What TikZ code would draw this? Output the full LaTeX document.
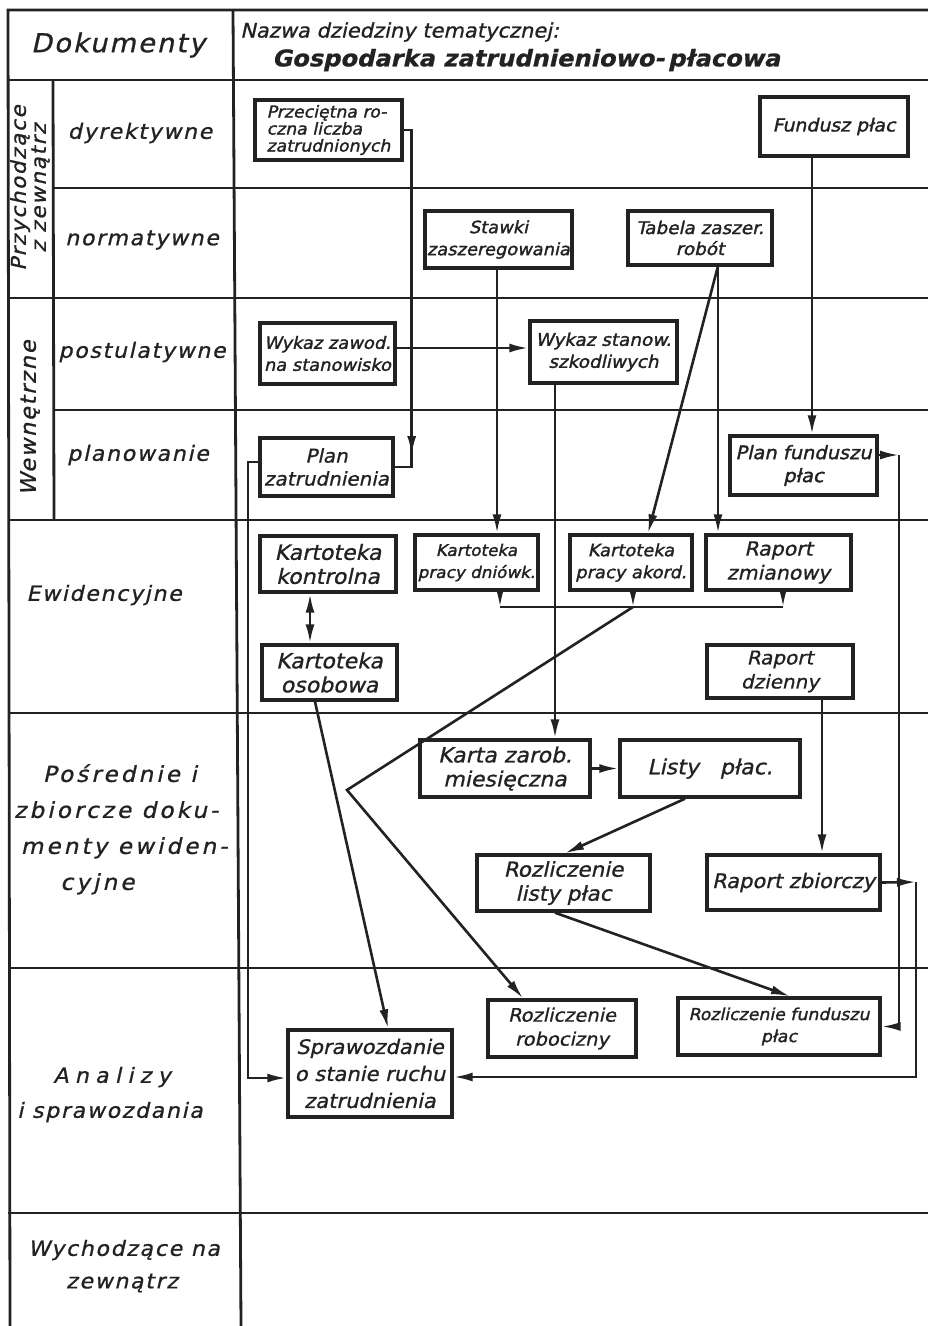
\documentclass[tikz,border=0pt]{standalone}
\usepackage{fontspec}
\setmainfont{DejaVu Sans}
\newfontfamily\hand[FakeSlant=0.22,FakeStretch=1.05,FakeBold=0.9]{DejaVu Sans}
\newfontfamily\handb[FakeSlant=0.22,FakeStretch=1.05,FakeBold=1.6]{DejaVu Sans}
\newfontfamily\handsp[FakeSlant=0.22,FakeStretch=1.05,FakeBold=0.9,LetterSpace=8]{DejaVu Sans}
\usetikzlibrary{arrows.meta,decorations.markings}
\definecolor{ink}{HTML}{222222}

\newcommand\handsz[2]{\hand\fontsize{#1}{#2}\selectfont}
\newcommand\handbsz[2]{\handb\fontsize{#1}{#2}\selectfont}

\tikzset{
  rule/.style={draw=ink, line width=2.8pt},
  box/.style={draw=ink, line width=3.4pt, fill=white, align=center, inner sep=0pt,
    text=ink, font=\handbsz{18}{22}},
  fs/.style 2 args={font=\handsz{#1}{#2}},
  fsb/.style 2 args={font=\handbsz{#1}{#2}},
  conn/.style={draw=ink, line width=2.6pt},
  tip/.style={-{Latex[length=19pt,width=9pt]}},
  arr/.style={conn, tip},
  midarr/.style={conn, postaction={decorate}, decoration={markings,
    mark=at position #1 with {\arrow{Latex[length=19pt,width=9pt]}}}},
  lbl/.style={text=ink, align=center, inner sep=0pt, font=\handsp\fontsize{21}{26}\selectfont},
}

\begin{document}
\begin{tikzpicture}[x=1pt,y=-1pt]
\useasboundingbox (0,0) rectangle (928,1326);
\fill[white] (0,0) rectangle (928,1326);

% ---- table frame ----
\draw[rule] (928,10) -- (8,10) -- (10,1326);
\draw[rule] (233,10) -- (241,1326);
\draw[rule] (53,80) -- (54,520);
\foreach \y in {80,298,520,713,968,1213} \draw[rule] (8,\y) -- (928,\y);
\foreach \y in {188,410} \draw[rule] (53,\y) -- (928,\y);

% ---- header ----
\node[lbl, font=\handsp\fontsize{26}{30}\selectfont] (hdoc) at (118,45) {Dokumenty};
\node[lbl, anchor=west, font=\handsz{20}{24}] (hname) at (240,32) {Nazwa dziedziny tematycznej:};
\node[lbl, anchor=west, font=\hand\bfseries\fontsize{23}{26}\selectfont] (htitle) at (272,60) {Gospodarka zatrudnieniowo-\,płacowa};

% ---- row labels ----
\node[lbl, rotate=90, font=\handsp\fontsize{20.5}{20}\selectfont] (gin) at (30,188) {Przychodzące\\z zewnątrz};
\node[lbl, rotate=90, font=\handsp\fontsize{21.5}{22}\selectfont] (gwew) at (30,418) {Wewnętrzne};
\node[lbl] (rdyr) at (140,133) {dyrektywne};
\node[lbl] (rnor) at (142,240) {normatywne};
\node[lbl] (rpos) at (142,352) {postulatywne};
\node[lbl] (rpla) at (138,455) {planowanie};
\node[lbl] (rewi) at (104,595) {Ewidencyjne};
\node[lbl, anchor=north west, align=left, font=\handsp\addfontfeature{LetterSpace=14}\fontsize{22}{36}\selectfont] (rpos2) at (14,764)
  {\hspace*{1.3em}Pośrednie i\\zbiorcze doku-\\\hspace*{0.3em}menty ewiden-\\\hspace*{2.1em}cyjne};
\node[lbl] (rana) at (112,1077) {\addfontfeature{LetterSpace=30}Analizy};
\node[lbl] (rana2) at (110,1112) {i sprawozdania};
\node[lbl] (rwyc) at (124,1250) {Wychodzące na};
\node[lbl] (rwyc2) at (122,1283) {zewnątrz};

% ---- documents ----
\node[box, fsb={16.5}{17}, align=left, minimum width=147, minimum height=60] (przec) at (328.5,130)
  {Przeciętna ro-\\czna liczba\\zatrudnionych};
\node[box, minimum width=148, minimum height=59] (fund) at (834,126.5) {Fundusz płac};
\node[box, fsb={17}{22}, minimum width=147, minimum height=57] (stawki) at (498.5,239.5) {Stawki\\zaszeregowania};
\node[box, fsb={17.5}{21}, minimum width=144, minimum height=54] (tabela) at (700,238) {Tabela zaszer.\\robót};
\node[box, fsb={17}{22}, minimum width=135, minimum height=61] (wykzaw) at (327.5,353.5) {Wykaz zawod.\\na stanowisko};
\node[box, fsb={17.5}{22}, minimum width=147, minimum height=62] (wykstan) at (603.5,352) {Wykaz stanow.\\szkodliwych};
\node[box, fs={19}{23}, minimum width=133, minimum height=58] (planz) at (326.5,467) {Plan\\zatrudnienia};
\node[box, fsb={18.5}{23}, minimum width=147, minimum height=59] (planf) at (803.5,465.5) {Plan funduszu\\płac};
\node[box, fs={21}{24}, minimum width=136, minimum height=56] (kkontr) at (328,564) {Kartoteka\\kontrolna};
\node[box, fsb={16}{22}, minimum width=123, minimum height=55] (kdn) at (476.5,562.5) {Kartoteka\\pracy dniówk.};
\node[box, fsb={17}{22}, minimum width=122, minimum height=55] (kak) at (631,562.5) {Kartoteka\\pracy akord.};
\node[box, fs={19.5}{24}, minimum width=145, minimum height=55] (rzm) at (778.5,562.5) {Raport\\zmianowy};
\node[box, fs={21}{24}, minimum width=135, minimum height=55] (kos) at (329.5,672.5) {Kartoteka\\osobowa};
\node[box, fs={19}{24}, minimum width=146, minimum height=53] (rdz) at (780,671.5) {Raport\\dzienny};
\node[box, fs={21}{24}, minimum width=170, minimum height=57] (karta) at (505,768.5) {Karta zarob.\\miesięczna};
\node[box, fs={21}{24}, minimum width=180, minimum height=57] (listy) at (710,768.5) {Listy\ \ \ płac.};
\node[box, fs={20.5}{24}, minimum width=173, minimum height=56] (rlp) at (563.5,883) {Rozliczenie\\listy płac};
\node[box, fs={20}{24}, minimum width=173, minimum height=55] (rzb) at (793.5,882.5) {Raport zbiorczy};
\node[box, fs={18.5}{24}, minimum width=148, minimum height=57] (rrob) at (562,1028.5) {Rozliczenie\\robocizny};
\node[box, fsb={16.5}{22}, minimum width=202, minimum height=57] (rfp) at (779,1026.5) {Rozliczenie funduszu\\płac};
\node[box, fs={20}{27}, minimum width=164, minimum height=87] (spr) at (370,1073.5) {Sprawozdanie\\o stanie ruchu\\zatrudnienia};

% ---- junction points ----
\coordinate (tsplit) at (718,266);
\coordinate (bar1) at (500,607);
\coordinate (bar2) at (633,607);
\coordinate (bar3) at (783,607);
\coordinate (bend) at (347,790);
\coordinate (pfc) at (899,455);
\coordinate (rzc) at (916,882);
\coordinate (plc) at (248,462);

% ---- connectors ----
\draw[midarr=0.92] (przec.east) -- ++(8,0) |- (planz.east);
\draw[arr] (fund.south -| 812,0) -- (planf.north -| 812,0);
\draw[arr] (stawki.south -| 497,0) -- (kdn.north -| 497,0);
\draw[conn] (tabela.south -| tsplit) -- (tsplit);
\draw[arr] (tsplit) -- (kak.north -| 648,0);
\draw[arr] (tsplit) -- (rzm.north -| tsplit);
\draw[arr] (wykzaw.east |- 0,348) -- (wykstan.west |- 0,348);
\draw[arr] (wykstan.south -| 555,0) -- (karta.north -| 555,0);

\draw[arr] (kdn.south -| bar1) -- (bar1);
\draw[arr] (kak.south -| bar2) -- (bar2);
\draw[arr] (rzm.south -| bar3) -- (bar3);
\draw[conn] (bar1) -- (bar3);
\draw[arr] (bar2) -- (bend) -- (rrob.north -| 523,0);

\draw[conn, {Latex[length=19pt,width=9pt]}-{Latex[length=19pt,width=9pt]}] (kkontr.south -| 310,0) -- (kos.north -| 310,0);
\draw[arr] (kos.south -| 315,0) -- (spr.north -| 388,0);
\draw[arr] (rdz.south -| 822,0) -- (rzb.north -| 822,0);
\draw[arr] (karta.east) -- (listy.west);
\draw[arr] (listy.south -| 685,0) -- (rlp.north -| 565,0);
\draw[arr] (rlp.south -| 555,0) -- (rfp.north -| 790,0);

\draw[arr] (planf.east |- pfc) -- (pfc);
\draw[arr] (pfc) |- (rfp.east);
\draw[arr] (rzb.east) -- (rzc);
\draw[arr] (rzc) |- (spr.east |- 0,1077);
\draw[arr] (planz.west |- plc) -- (plc) |- (spr.west |- 0,1078);
\end{tikzpicture}
\end{document}
